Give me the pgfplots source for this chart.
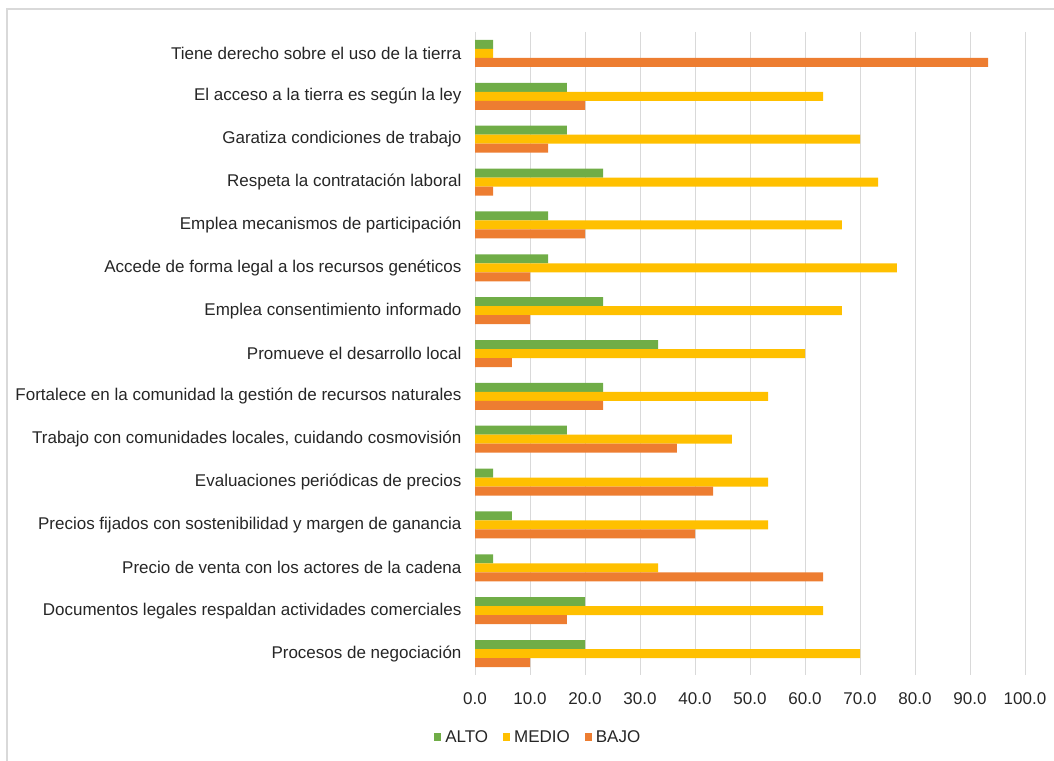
\documentclass[border=0pt]{standalone}
\usepackage{pgfplots}
\pgfplotsset{compat=1.18}
\usepackage{fontspec}
\setmainfont{Liberation Sans}
\definecolor{alto}{HTML}{70AD47}
\definecolor{medio}{HTML}{FFC000}
\definecolor{bajo}{HTML}{ED7D31}
\definecolor{gridc}{HTML}{D9D9D9}

\begin{document}
\begin{tikzpicture}[x=1pt,y=1pt]
\useasboundingbox (0,0) rectangle (1054,760);
% marco del grafico
\draw[gridc, line width=1.5pt] (7,-5) -- (7,751) -- (1060,751);
\begin{axis}[
    at={(475pt,85pt)}, anchor=south west,
    scale only axis,
    width=550pt, height=643pt,
    xmin=0, xmax=100,
    ymin=-0.5, ymax=14.5,
    y dir=reverse,
    xtick={0,10,...,100},
    ytick={0,...,14},
    yticklabels={
        Tiene derecho sobre el uso de la tierra,
        El acceso a la tierra es según la ley,
        Garatiza condiciones de trabajo,
        Respeta la contratación laboral,
        Emplea mecanismos de participación,
        Accede de forma legal a los recursos genéticos,
        Emplea consentimiento informado,
        Promueve el desarrollo local,
        Fortalece en la comunidad la gestión de recursos naturales,
        {Trabajo con comunidades locales, cuidando cosmovisión},
        Evaluaciones periódicas de precios,
        Precios fijados con sostenibilidad y margen de ganancia,
        Precio de venta con los actores de la cadena,
        Documentos legales respaldan actividades comerciales,
        Procesos de negociación},
    xticklabel style={/pgf/number format/.cd, fixed, fixed zerofill, precision=1, assume math mode=true},
    ticklabel style={font=\fontsize{17}{20}\selectfont, text=black!85},
    xticklabel shift=14pt,
    yticklabel shift=10pt,
    major tick length=0pt,
    xmajorgrids=true,
    grid style={gridc, line width=1pt},
    axis x line*=bottom,
    x axis line style={draw=none},
    axis y line*=left,
    y axis line style={gridc, line width=1pt},
    xbar,
    bar width=9pt,
    legend columns=3,
    legend style={at={(0.115,-0.0965)}, anchor=center, draw=none,
        font=\fontsize{17}{20}\selectfont, text=black!85,
        /tikz/every odd column/.append style={column sep=2pt},
        /tikz/every even column/.append style={column sep=13pt}},
    legend image code/.code={\fill[#1] (0pt,-4pt) rectangle (7pt,4pt);},
]
\addplot[fill=alto, draw=none, bar shift=9pt] coordinates {
    (3.3,0) (16.7,1) (16.7,2) (23.3,3) (13.3,4) (13.3,5) (23.3,6) (33.3,7)
    (23.3,8) (16.7,9) (3.3,10) (6.7,11) (3.3,12) (20.0,13) (20.0,14)};
\addplot[fill=medio, draw=none, bar shift=0pt] coordinates {
    (3.3,0) (63.3,1) (70.0,2) (73.3,3) (66.7,4) (76.7,5) (66.7,6) (60.0,7)
    (53.3,8) (46.7,9) (53.3,10) (53.3,11) (33.3,12) (63.3,13) (70.0,14)};
\addplot[fill=bajo, draw=none, bar shift=-9pt] coordinates {
    (93.3,0) (20.0,1) (13.3,2) (3.3,3) (20.0,4) (10.0,5) (10.0,6) (6.7,7)
    (23.3,8) (36.7,9) (43.3,10) (40.0,11) (63.3,12) (16.7,13) (10.0,14)};
\legend{ALTO,MEDIO,BAJO}
\end{axis}
\end{tikzpicture}
\end{document}
